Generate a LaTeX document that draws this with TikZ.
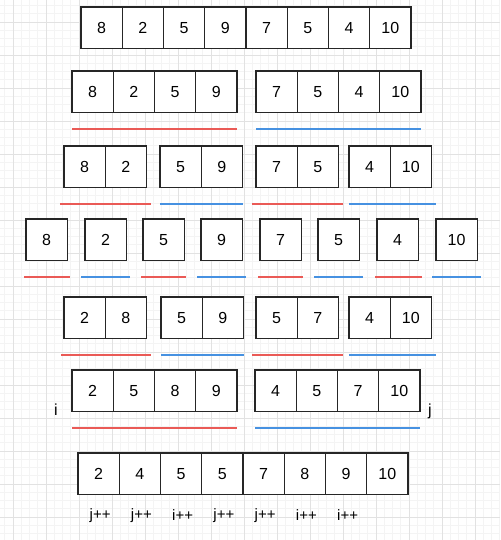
\documentclass[tikz,border=0pt]{standalone}
\usepackage{fontspec}
\setmainfont{Liberation Sans}
\usepackage{tikz}
\usetikzlibrary{calc,positioning}
\definecolor{mergered}{RGB}{234,90,86}
\definecolor{mergeblue}{RGB}{70,145,225}
\definecolor{gridminor}{RGB}{244,244,244}
\definecolor{gridmajor}{RGB}{226,226,226}
\tikzset{%
  % Specifications for style of nodes:
  cell/.style = {rectangle, draw=black!85, line width=1.4pt, fill=white,
    minimum width=41.25pt, minimum height=41.5pt,
    inner sep=0pt, outer sep=0pt, anchor=north west,
    font=\fontsize{16}{19}\selectfont},
  redline/.style = {draw=mergered, line width=1.7pt},
  blueline/.style = {draw=mergeblue, line width=1.7pt},
  idxlabel/.style = {font=\fontsize{16}{19}\selectfont, inner sep=0pt},
  steplabel/.style = {font=\fontsize{15}{18}\selectfont, inner sep=0pt},
}
% one group of adjacent cells: name, x, y, values
\newcommand{\cellgroup}[4]{%
  \foreach \v [count=\k] in {#4}
    \node(#1-\k)[cell] at ({#2+41.25*(\k-1)},#3) {\v};
}

\begin{document}
\begin{tikzpicture}[x=1pt,y=-1pt]
    \useasboundingbox (0,0) rectangle (500,540);
    \fill[white] (0,0) rectangle (500,540);
    % background grid
    \begin{scope}
      \clip (0,0) rectangle (500,540);
      \foreach \k in {-2,...,61}
        \draw[gridminor, line width=0.8pt] ({13+8.25*\k},0) -- ({13+8.25*\k},540);
      \foreach \k in {-3,...,64}
        \draw[gridminor, line width=0.8pt] (0,{22+8.25*\k}) -- (500,{22+8.25*\k});
      \foreach \k in {0,...,15}
        \draw[gridmajor, line width=0.9pt] ({13+33*\k},0) -- ({13+33*\k},540);
      \foreach \k in {-1,...,16}
        \draw[gridmajor, line width=0.9pt] (0,{22+33*\k}) -- (500,{22+33*\k});
    \end{scope}

    % Specification of nodes (position, etc.)
    \cellgroup{top}{81}{7}{8,2,5,9,7,5,4,10}

    \cellgroup{halfL}{72}{71}{8,2,5,9}
    \cellgroup{halfR}{256}{71}{7,5,4,10}
    \draw[redline] ([yshift=-16.5pt]halfL-1.south west) -- ([yshift=-16.5pt]halfL-4.south east);
    \draw[blueline] ([yshift=-16.5pt]halfR-1.south west) -- ([yshift=-16.5pt]halfR-4.south east);

    \cellgroup{qA}{64}{146}{8,2}
    \cellgroup{qB}{160}{146}{5,9}
    \cellgroup{qC}{256}{146}{7,5}
    \cellgroup{qD}{349}{146}{4,10}
    \draw[redline] ([xshift=-4pt,yshift=-16.5pt]qA-1.south west) -- ([xshift=4pt,yshift=-16.5pt]qA-2.south east);
    \draw[blueline] ([yshift=-16.5pt]qB-1.south west) -- ([yshift=-16.5pt]qB-2.south east);
    \draw[redline] ([xshift=-4pt,yshift=-16.5pt]qC-1.south west) -- ([xshift=4pt,yshift=-16.5pt]qC-2.south east);
    \draw[blueline] ([yshift=-16.5pt]qD-1.south west) -- ([xshift=4pt,yshift=-16.5pt]qD-2.south east);

    \node(one1)[cell] at (26,219) {8};
    \node(one2)[cell] at (85,219) {2};
    \node(one3)[cell] at (143,219) {5};
    \node(one4)[cell] at (201,219) {9};
    \node(one5)[cell] at (260,219) {7};
    \node(one6)[cell] at (318,219) {5};
    \node(one7)[cell] at (377,219) {4};
    \node(one8)[cell] at (436,219) {10};
    \foreach \a/\b in {1/3,3/2,5/2,7/4} {
      \draw[redline] ([xshift=-2pt,yshift=-16.5pt]one\a.south west) -- ([xshift=\b pt,yshift=-16.5pt]one\a.south east);
    }
    \foreach \a in {2,4,6,8} {
      \draw[blueline] ([xshift=-4pt,yshift=-16.5pt]one\a.south west) -- ([xshift=4pt,yshift=-16.5pt]one\a.south east);
    }

    \cellgroup{sA}{64}{297}{2,8}
    \cellgroup{sB}{161}{297}{5,9}
    \cellgroup{sC}{256}{297}{5,7}
    \cellgroup{sD}{349}{297}{4,10}
    \draw[redline] ([xshift=-3pt,yshift=-16.5pt]sA-1.south west) -- ([xshift=4pt,yshift=-16.5pt]sA-2.south east);
    \draw[blueline] ([yshift=-16.5pt]sB-1.south west) -- ([yshift=-16.5pt]sB-2.south east);
    \draw[redline] ([xshift=-4pt,yshift=-16.5pt]sC-1.south west) -- ([xshift=4pt,yshift=-16.5pt]sC-2.south east);
    \draw[blueline] ([yshift=-16.5pt]sD-1.south west) -- ([xshift=4pt,yshift=-16.5pt]sD-2.south east);

    \cellgroup{mL}{72}{370}{2,5,8,9}
    \cellgroup{mR}{255}{370}{4,5,7,10}
    \node(i)[idxlabel] at (56,410) {i};
    \node(j)[idxlabel] at (430,411) {j};
    \draw[redline] ([yshift=-16.5pt]mL-1.south west) -- ([yshift=-16.5pt]mL-4.south east);
    \draw[blueline] ([yshift=-16.5pt]mR-1.south west) -- ([yshift=-16.5pt]mR-4.south east);

    \cellgroup{res}{78}{453}{2,4,5,5,7,8,9,10}
    \foreach \s [count=\k] in {j++,j++,i++,j++,j++,i++,i++}
      \node(inc\k)[steplabel] at ([xshift=1.5pt,yshift=-21pt]res-\k.south) {\s};
\end{tikzpicture}
\end{document}
